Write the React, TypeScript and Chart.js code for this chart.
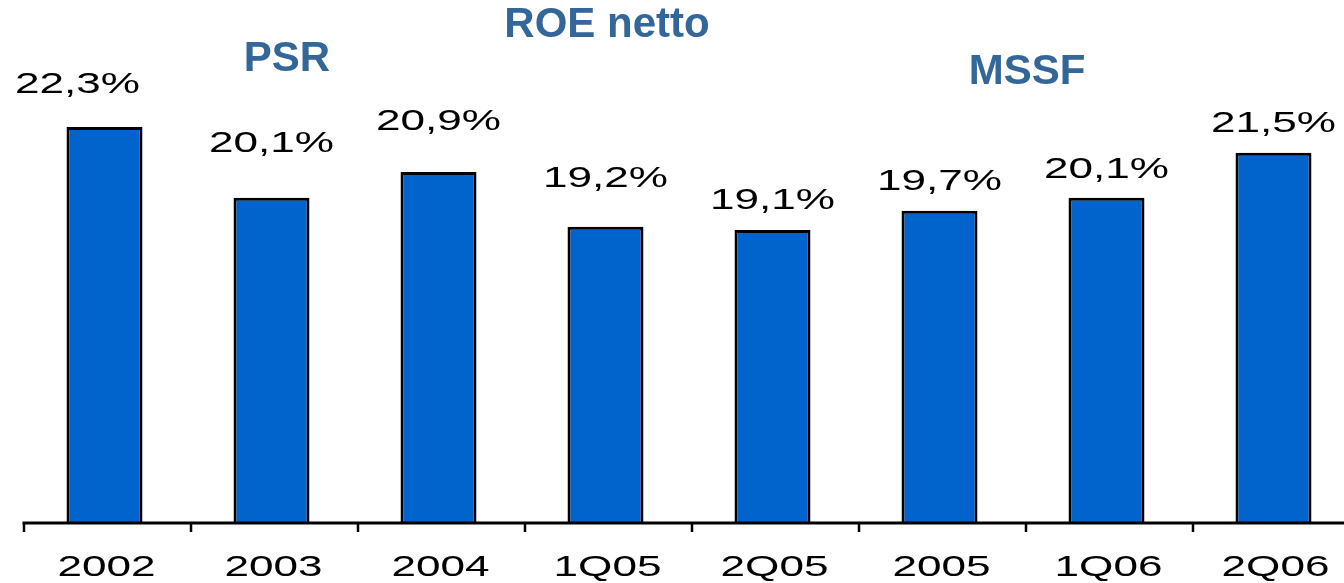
import React, { useEffect, useRef } from "react";
import { Chart, registerables } from "chart.js";

Chart.register(...registerables);

const categories = ["2002", "2003", "2004", "1Q05", "2Q05", "2005", "1Q06", "2Q06"];
const roeValues = [22.3, 20.1, 20.9, 19.2, 19.1, 19.7, 20.1, 21.5];
const valueLabels = ["22,3%", "20,1%", "20,9%", "19,2%", "19,1%", "19,7%", "20,1%", "21,5%"];
const titles = ["PSR", "ROE netto", "MSSF"];

// style constants (gaps between bar top and label baseline, label x shifts)
const LABEL_GAP = [34, 46, 42, 40, 21, 21, 20, 21];
const LABEL_DX = [-27, 0, 0, 0, 0, 0, 0, 0];
const TITLE_POS = [
  { x: 287, y: 71 },
  { x: 607, y: 37 },
  { x: 1027, y: 84 },
];
const STRETCH = 1.47;

function drawStretched(ctx: CanvasRenderingContext2D, text: string, x: number, y: number) {
  ctx.save();
  ctx.translate(x, y);
  ctx.scale(STRETCH, 1);
  ctx.textAlign = "center";
  ctx.textBaseline = "alphabetic";
  ctx.fillText(text, 0, 0);
  ctx.restore();
}

const overlayPlugin = {
  id: "overlay",
  afterDatasetsDraw(chart: any) {
    const ctx: CanvasRenderingContext2D = chart.ctx;
    const xs = chart.scales.x;
    const area = chart.chartArea;
    const meta = chart.getDatasetMeta(0);
    const n = categories.length;
    const catW = (area.right - area.left) / n;

    // axis line
    ctx.save();
    ctx.strokeStyle = "#000";
    ctx.lineWidth = 3;
    ctx.beginPath();
    ctx.moveTo(area.left + 1.5, area.bottom);
    ctx.lineTo(area.right + 5, area.bottom);
    ctx.stroke();
    // tick marks at category boundaries
    ctx.lineWidth = 2.5;
    for (let i = 0; i <= n; i++) {
      const x = Math.round(xs.getPixelForValue(i) - catW / 2) + 3;
      ctx.beginPath();
      ctx.moveTo(x, area.bottom);
      ctx.lineTo(x, area.bottom + 9);
      ctx.stroke();
    }
    ctx.restore();

    // category labels
    ctx.save();
    ctx.fillStyle = "#000";
    ctx.font = "30px 'Liberation Sans', Arial, sans-serif";
    categories.forEach((c, i) => {
      drawStretched(ctx, c, xs.getPixelForValue(i) + 2, 576);
    });
    // value labels
    meta.data.forEach((bar: any, i: number) => {
      drawStretched(ctx, valueLabels[i], bar.x + LABEL_DX[i], bar.y - LABEL_GAP[i]);
    });
    ctx.restore();

    // titles
    ctx.save();
    ctx.fillStyle = "#336699";
    ctx.font = "bold 42px 'Liberation Sans', Arial, sans-serif";
    ctx.textAlign = "center";
    ctx.textBaseline = "alphabetic";
    titles.forEach((t, i) => {
      ctx.fillText(t, TITLE_POS[i].x, TITLE_POS[i].y);
    });
    ctx.restore();
  },
};

export default function App() {
  const ref = useRef<HTMLCanvasElement | null>(null);
  useEffect(() => {
    if (!ref.current) return;
    const chart = new Chart(ref.current, {
      type: "bar",
      data: {
        labels: categories,
        datasets: [
          {
            label: "ROE netto",
            data: roeValues,
            backgroundColor: "#0064CC",
            borderColor: "#000000",
            borderWidth: 3,
            barPercentage: 0.455,
            categoryPercentage: 1,
          },
        ],
      },
      options: {
        animation: false,
        responsive: false,
        maintainAspectRatio: false,
        layout: { padding: { left: 21, right: 3, top: 40, bottom: 60 } },
        plugins: {
          legend: { display: false },
          tooltip: { enabled: false },
          title: { display: false },
        },
        scales: {
          x: { display: false },
          y: { display: false, min: 10, max: 25 },
        },
      },
      plugins: [overlayPlugin],
    });
    return () => chart.destroy();
  }, []);

  return (
    <div style={{ position: "fixed", left: 0, top: 0, width: 1344, height: 583, overflow: "hidden", background: "#fff" }}>
      <canvas ref={ref} width={1360} height={583} style={{ display: "block", width: 1360, height: 583 }} />
    </div>
  );
}
